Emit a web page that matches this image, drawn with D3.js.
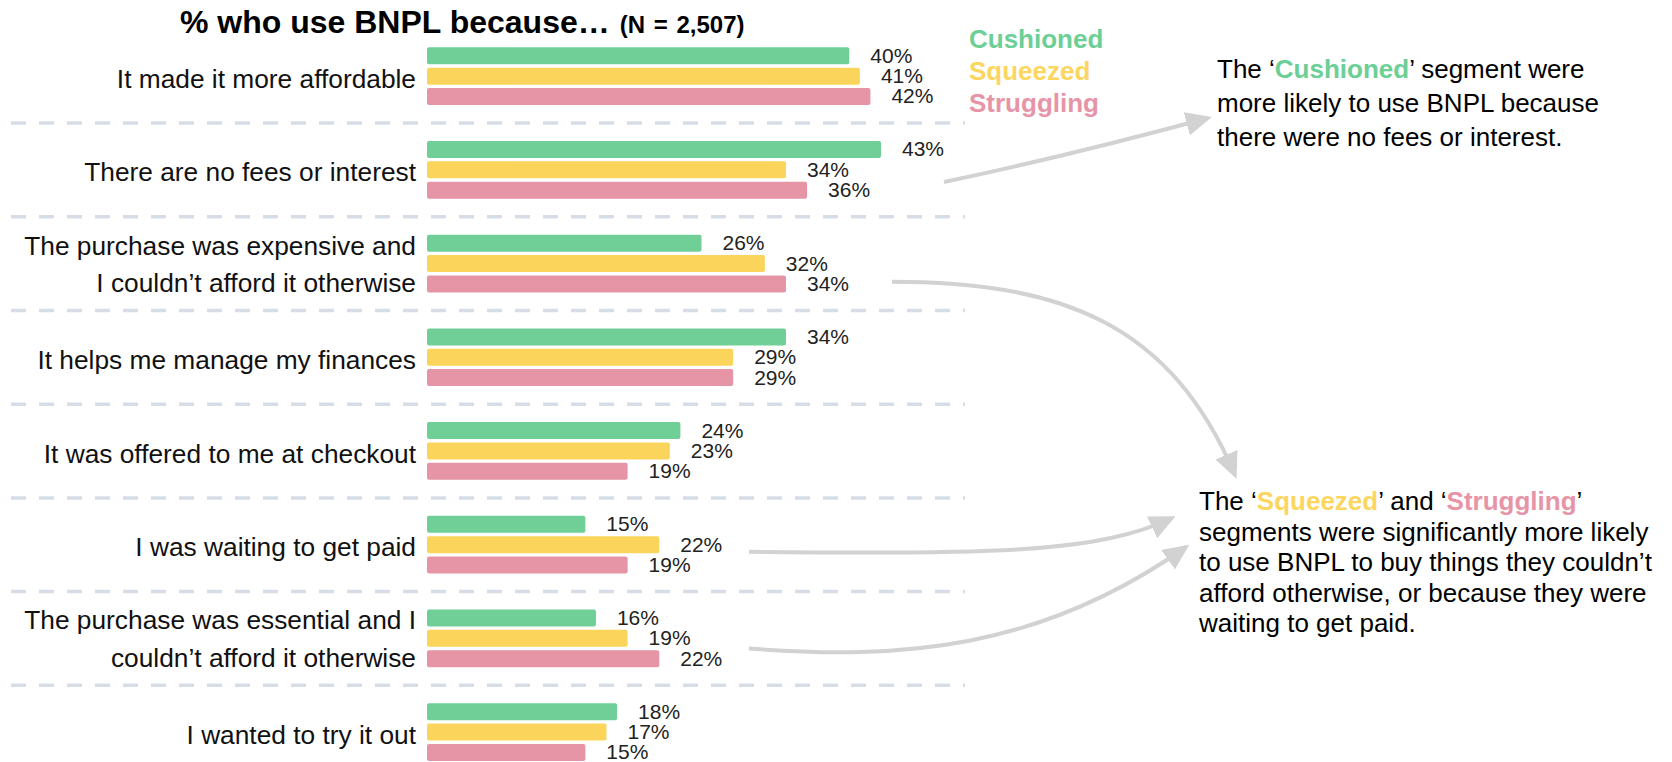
<!DOCTYPE html>
<html>
<head>
<meta charset="utf-8">
<script src="https://cdn.jsdelivr.net/npm/d3@7"></script>
<style>
body { margin: 0; background: #fff; }
svg { display: block; font-family: "Liberation Sans", Arial, Helvetica, sans-serif; }
</style>
</head>
<body>
<svg id="chart" width="1672" height="762"></svg>
<script>
// reasons, top to bottom (\n splits the label over two lines)
var categories = [
    'It made it more affordable',
    'There are no fees or interest',
    'The purchase was expensive and\nI couldn\u2019t afford it otherwise',
    'It helps me manage my finances',
    'It was offered to me at checkout',
    'I was waiting to get paid',
    'The purchase was essential and I\ncouldn\u2019t afford it otherwise',
    'I wanted to try it out'
];
var segments = ['Cushioned', 'Squeezed', 'Struggling'];
var cushioned = [40, 43, 26, 34, 24, 15, 16, 18];
var squeezed = [41, 34, 32, 29, 23, 22, 19, 17];
var struggling = [42, 36, 34, 29, 19, 19, 22, 15];
var series = [cushioned, squeezed, struggling];

var colors = ['#6fcf97', '#fbd55b', '#e595a6'];
var textColors = ['#6ccf96', '#fcd65e', '#e894a7'];

var svg = d3.select('#chart');
svg.append('rect').attr('width', 1672).attr('height', 762).attr('fill', '#fff');

// scales
var xScale = d3.scaleLinear().domain([0, 43]).range([427, 881]);
var yScale = d3.scaleBand().domain(categories).range([29.4, 779]);
var segScale = d3.scaleBand().domain(segments).range([17.9, 75.6]).paddingInner(0.165);
var colorScale = d3.scaleOrdinal().domain(segments).range(colors);

var step = yScale.step();

// dashed separators between groups
var seps = categories.slice(1);
svg.selectAll('.sep').data(seps)
    .enter()
    .append('line')
    .attr('class', 'sep')
    .attr('x1', 11)
    .attr('x2', 965)
    .attr('y1', d => yScale(d))
    .attr('y2', d => yScale(d))
    .attr('stroke', '#d7dde7')
    .attr('stroke-width', 3.5)
    .attr('stroke-dasharray', '15,13');

// title
var title = svg.append('text')
    .attr('x', 180)
    .attr('y', 33)
    .attr('fill', '#000')
    .style('font-weight', 'bold');
title.append('tspan').style('font-size', '32px').text('% who use BNPL because\u2026');
title.append('tspan').attr('dx', 10).style('font-size', '24px').style('word-spacing', '2px').text('(N = 2,507)');

// groups
var groups = svg.selectAll('.group').data(categories)
    .enter()
    .append('g')
    .attr('class', 'group')
    .attr('transform', d => 'translate(0,' + yScale(d) + ')');

groups.append('text')
    .attr('class', 'cat-label')
    .attr('text-anchor', 'end')
    .attr('fill', '#111')
    .style('font-size', '26.3px')
    .each(function(d) {
        var lines = d.split('\n');
        var t = d3.select(this);
        var mid = step / 2;
        if (lines.length === 1) {
            t.append('tspan').attr('x', 416).attr('y', mid + 11.5).text(lines[0]);
        } else {
            t.append('tspan').attr('x', 416).attr('y', mid - 9).text(lines[0]);
            t.append('tspan').attr('x', 416).attr('y', mid + 28.5).text(lines[1]);
        }
    });

var barData = function(cat) {
    var i = categories.indexOf(cat);
    return segments.map((s, j) => ({seg: s, value: series[j][i]}));
};

groups.selectAll('.bar').data(d => barData(d))
    .enter()
    .append('rect')
    .attr('class', 'bar')
    .attr('x', xScale(0))
    .attr('y', d => segScale(d.seg))
    .attr('width', d => xScale(d.value) - xScale(0))
    .attr('height', segScale.bandwidth())
    .attr('rx', 2)
    .attr('fill', d => colorScale(d.seg));

groups.selectAll('.val').data(d => barData(d))
    .enter()
    .append('text')
    .attr('class', 'val')
    .attr('x', d => xScale(d.value) + 21)
    .attr('y', d => segScale(d.seg) + segScale.bandwidth() / 2 + 7)
    .attr('fill', '#222')
    .style('font-size', '21px')
    .text(d => d.value + '%');

// legend
svg.selectAll('.legend').data(segments)
    .enter()
    .append('text')
    .attr('class', 'legend')
    .attr('x', 969)
    .attr('y', (d, i) => 47.5 + i * 32)
    .attr('fill', (d, i) => textColors[i])
    .style('font-size', '26px')
    .style('font-weight', 'bold')
    .text(d => d);

// annotations
function annotate(x, y0, lh, lines) {
    var t = svg.append('text').attr('fill', '#000').style('font-size', '26px');
    lines.forEach(function(parts, i) {
        var line = t.append('tspan').attr('x', x).attr('y', y0 + i * lh);
        parts.forEach(function(p) {
            if (typeof p === 'string') {
                line.append('tspan').text(p);
            } else {
                line.append('tspan')
                    .attr('fill', textColors[p.c])
                    .style('font-weight', 'bold')
                    .text(p.t);
            }
        });
    });
}

annotate(1217, 78, 34, [
    ['The \u2018', {t: 'Cushioned', c: 0}, '\u2019 segment were'],
    ['more likely to use BNPL because'],
    ['there were no fees or interest.']
]);

annotate(1199, 510, 30.5, [
    ['The \u2018', {t: 'Squeezed', c: 1}, '\u2019 and \u2018', {t: 'Struggling', c: 2}, '\u2019'],
    ['segments were significantly more likely'],
    ['to use BNPL to buy things they couldn\u2019t'],
    ['afford otherwise, or because they were'],
    ['waiting to get paid.']
]);

// arrows
var defs = svg.append('defs');
defs.append('marker')
    .attr('id', 'head')
    .attr('markerUnits', 'userSpaceOnUse')
    .attr('markerWidth', 26)
    .attr('markerHeight', 24)
    .attr('refX', 22)
    .attr('refY', 12)
    .attr('orient', 'auto')
    .append('path')
    .attr('d', 'M0,0 L26,12 L0,24 Z')
    .attr('fill', '#d2d2d2');

var rowMid = function(i) { return yScale(categories[i]) + step / 2; };

var arrows = [
    'M944,' + (rowMid(1) + 12) + ' Q1068,156 1208,118',
    'M892,' + (rowMid(2) + 18) + ' C1060,282 1170,322 1235,475',
    'M749,' + (rowMid(5) + 7) + ' C1000,555 1100,552 1172,518',
    'M749,' + (rowMid(6) + 10) + ' C900,660 1040,650 1186,547'
];

svg.selectAll('.arrow').data(arrows)
    .enter()
    .append('path')
    .attr('class', 'arrow')
    .attr('d', d => d)
    .attr('fill', 'none')
    .attr('stroke', '#d2d2d2')
    .attr('stroke-width', 4)
    .attr('marker-end', 'url(#head)');
</script>
</body>
</html>
